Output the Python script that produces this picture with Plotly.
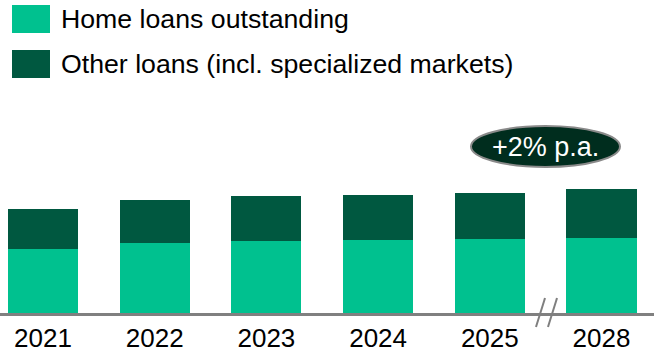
import plotly.graph_objects as go

# Loan volumes by year (relative units)
years = ["2021", "2022", "2023", "2024", "2025", "2028"]
home_loans = [63.7, 69.7, 71.7, 72.7, 73.7, 75.0]
other_loans = [40.0, 43.7, 45.0, 45.3, 46.3, 48.7]
series_names = ["Home loans outstanding", "Other loans (incl. specialized markets)"]
growth_label = "+2% p.a."

HOME_COLOR = "#00C18F"
OTHER_COLOR = "#005840"
W, H = 654, 350
BOTTOM = 37          # space under the axis line for the tick labels
PLOT_H = H - BOTTOM
FONT = "Liberation Sans, Arial, sans-serif"


def px(x):
    return x / W


def py(y):
    # pixel row (from top) -> paper y of the plot area
    return (PLOT_H - y) / PLOT_H


fig = go.Figure()
fig.add_trace(go.Bar(x=years, y=home_loans, name=series_names[0],
                     marker=dict(color=HOME_COLOR, line=dict(width=0)),
                     width=0.627))
fig.add_trace(go.Bar(x=years, y=other_loans, name=series_names[1],
                     marker=dict(color=OTHER_COLOR, line=dict(width=0)),
                     width=0.627))

shapes = []
annotations = []

# Legend swatches and labels
for i, (name, color) in enumerate(zip(series_names, [HOME_COLOR, OTHER_COLOR])):
    top = 5 + i * 45
    shapes.append(dict(type="rect", xref="paper", yref="paper",
                       x0=px(12), x1=px(50), y0=py(top + 28), y1=py(top),
                       fillcolor=color, line=dict(width=0)))
    annotations.append(dict(xref="paper", yref="paper", x=px(59), y=py(top + 14),
                            text=name, showarrow=False, xanchor="left",
                            yanchor="middle",
                            font=dict(family=FONT, size=26.7, color="#000000")))

# Growth-rate bubble
shapes.append(dict(type="circle", xref="paper", yref="paper",
                   x0=px(471), x1=px(620), y0=py(167), y1=py(126),
                   fillcolor="#002D1E", line=dict(color="#8A8A8A", width=2)))
annotations.append(dict(xref="paper", yref="paper", x=px(545.5), y=py(146.5),
                        text=growth_label, showarrow=False,
                        xanchor="center", yanchor="middle",
                        font=dict(family=FONT, size=27, color="#FFFFFF")))

# Axis break marks between 2025 and 2028
for dx in (0, 12):
    shapes.append(dict(type="line", xref="paper", yref="paper",
                       x0=px(536 + dx), y0=py(327), x1=px(545 + dx), y1=py(298),
                       line=dict(color="#7F7F7F", width=2)))

fig.update_layout(
    width=W, height=H,
    margin=dict(l=0, r=0, t=0, b=BOTTOM, autoexpand=False),
    barmode="stack",
    showlegend=False,
    plot_bgcolor="#FFFFFF",
    paper_bgcolor="#FFFFFF",
    shapes=shapes,
    annotations=annotations,
    xaxis=dict(type="category", range=[-0.385, 5.47], automargin=False,
               showline=True, linecolor="#808080", linewidth=2.5,
               showgrid=False, zeroline=False, ticks="",
               tickfont=dict(family=FONT, size=26, color="#000000"),
               fixedrange=True),
    yaxis=dict(range=[0, PLOT_H], visible=False, showgrid=False,
               zeroline=False, fixedrange=True, automargin=False),
)

fig.write_html("out.html")
